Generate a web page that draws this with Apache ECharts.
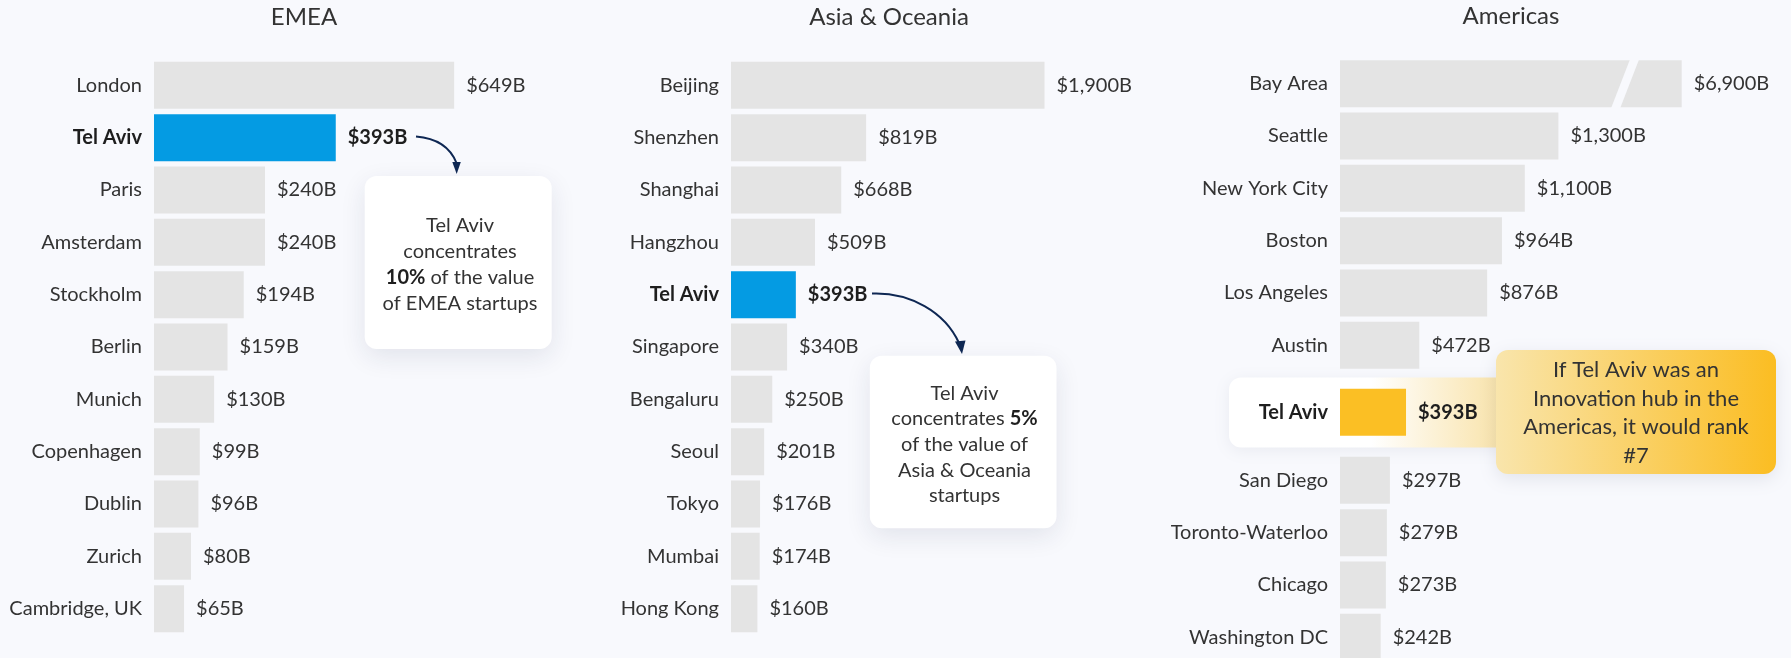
<!DOCTYPE html>
<html lang="en">
  <head>
    <meta charset="utf-8" />
    <title>Tel Aviv startup value by region</title>
    <style>
      * {
        margin: 0;
        padding: 0;
      }

      #chart-container {
        width: 1791px;
        height: 658px;
        overflow: hidden;
      }
    </style>
  </head>

  <body>
    <div id="chart-container"></div>
    <script src="https://cdn.jsdelivr.net/npm/echarts@6.0.0/dist/echarts.min.js"></script>
    <script>
      // startup ecosystem value, $B
      var emeaCities = ["London", "Tel Aviv", "Paris", "Amsterdam", "Stockholm", "Berlin", "Munich", "Copenhagen", "Dublin", "Zurich", "Cambridge, UK"];
      var emeaValues = [649, 393, 240, 240, 194, 159, 130, 99, 96, 80, 65];

      var asiaCities = ["Beijing", "Shenzhen", "Shanghai", "Hangzhou", "Tel Aviv", "Singapore", "Bengaluru", "Seoul", "Tokyo", "Mumbai", "Hong Kong"];
      var asiaValues = [1900, 819, 668, 509, 393, 340, 250, 201, 176, 174, 160];

      var americasCities = ["Bay Area", "Seattle", "New York City", "Boston", "Los Angeles", "Austin", "Tel Aviv", "San Diego", "Toronto-Waterloo", "Chicago", "Washington DC"];
      var americasValues = [6900, 1300, 1100, 964, 876, 472, 393, 297, 279, 273, 242];

      var regionTitles = ["EMEA", "Asia & Oceania", "Americas"];

      // Bay Area is far off the scale, so the Americas axis is cut
      var bayBreak = { start: 1670, end: 6590, gap: 54 };

      var FONT = "Lato";
      var BG = "#f8f9fd";
      var GREY = "#e4e4e4";
      var BLUE = "#049be3";
      var GOLD = "#fbbf24";
      var INK = "#333";
      var NAVY = "#0e2753";

      function money(v) {
        return "$" + v.toLocaleString("en-US") + "B";
      }

      function catAxis(i, names) {
        return {
          type: "category",
          gridIndex: i,
          data: names,
          inverse: true,
          z: 10,
          axisLine: { show: false },
          axisTick: { show: false },
          axisLabel: {
            margin: 12,
            color: INK,
            fontSize: 20,
            fontFamily: FONT,
            formatter: function (v) {
              return v === "Tel Aviv" ? "{b|" + v + "}" : v;
            },
            rich: {
              b: { fontSize: 20, fontFamily: FONT, fontWeight: "bold", color: "#1e1e1e" },
            },
          },
        };
      }

      function valAxis(i, max, extra) {
        var ax = {
          type: "value",
          gridIndex: i,
          min: 0,
          max: max,
          axisLine: { show: false },
          axisTick: { show: false },
          axisLabel: { show: false },
          splitLine: { show: false },
        };
        return Object.assign(ax, extra || {});
      }

      function bars(i, names, values, hl) {
        return {
          type: "bar",
          xAxisIndex: i,
          yAxisIndex: i,
          barWidth: 47,
          silent: true,
          data: values,
          itemStyle: {
            color: function (p) {
              return names[p.dataIndex] === "Tel Aviv" ? hl : GREY;
            },
          },
          label: {
            show: true,
            position: "right",
            distance: 12,
            color: INK,
            fontSize: 20,
            fontFamily: FONT,
            formatter: function (p) {
              var t = money(p.value);
              return names[p.dataIndex] === "Tel Aviv" ? "{b|" + t + "}" : t;
            },
            rich: {
              b: { fontSize: 20, fontFamily: FONT, fontWeight: "bold", color: "#1e1e1e" },
            },
          },
        };
      }

      // Americas is split so the Tel Aviv row can sit in its own highlighted band
      var amTop = americasCities.slice(0, 6);
      var amMid = americasCities.slice(6, 7);
      var amBot = americasCities.slice(7);

      var dom = document.getElementById("chart-container");
      var myChart = echarts.init(dom, null, { renderer: "canvas" });

      var titleStyle = { fontSize: 24, fontFamily: FONT, fill: INK, align: "center", verticalAlign: "middle" };

      function callout(x, y, w, h) {
        return {
          type: "rect",
          z: 50,
          shape: { x: x, y: y, width: w, height: h, r: 12 },
          style: { fill: "#fff", shadowBlur: 26, shadowOffsetY: 8, shadowColor: "rgba(30,40,80,0.10)" },
        };
      }

      function noteText(x, y, text, size, lh) {
        return {
          type: "text",
          z: 51,
          x: x,
          y: y,
          style: {
            text: text,
            fontSize: size,
            fontFamily: FONT,
            lineHeight: lh,
            fill: INK,
            align: "center",
            verticalAlign: "middle",
            rich: {
              b: { fontSize: size, fontFamily: FONT, fontWeight: "bold", lineHeight: lh, fill: "#1e1e1e" },
            },
          },
        };
      }

      var option = {
        backgroundColor: BG,
        animation: false,
        grid: [
          { left: 154, top: 59.2, width: 370, height: 575.6, outerBoundsMode: "none" },
          { left: 731, top: 59.2, width: 330, height: 575.6, outerBoundsMode: "none" },
          { left: 1340, top: 57.5, width: 358.5, height: 314, outerBoundsMode: "none" },
          { left: 1340, top: 386.2, width: 336, height: 52.33, outerBoundsMode: "none" },
          { left: 1340, top: 454.2, width: 336, height: 209.3, outerBoundsMode: "none" },
        ],
        yAxis: [
          catAxis(0, emeaCities),
          catAxis(1, asiaCities),
          catAxis(2, amTop),
          catAxis(3, amMid),
          catAxis(4, amBot),
        ],
        xAxis: [
          valAxis(0, 800),
          valAxis(1, 2000),
          valAxis(2, 7000, {
            breaks: [bayBreak],
            breakArea: { show: false },
          }),
          valAxis(3, 2000),
          valAxis(4, 2000),
        ],
        series: [
          bars(0, emeaCities, emeaValues, BLUE),
          bars(1, asiaCities, asiaValues, BLUE),
          bars(2, amTop, americasValues.slice(0, 6), GOLD),
          bars(3, amMid, americasValues.slice(6, 7), GOLD),
          bars(4, amBot, americasValues.slice(7), GOLD),
        ],
        graphic: [
          { type: "text", x: 304, y: 17, style: Object.assign({ text: regionTitles[0] }, titleStyle) },
          { type: "text", x: 889, y: 17, style: Object.assign({ text: regionTitles[1] }, titleStyle) },
          { type: "text", x: 1511, y: 16, style: Object.assign({ text: regionTitles[2] }, titleStyle) },

          // highlighted Tel Aviv band in the Americas panel
          {
            type: "rect",
            z: 1,
            shape: { x: 1229, y: 377.5, width: 285, height: 70, r: 12 },
            style: {
              fill: {
                type: "linear", x: 0, y: 0, x2: 1, y2: 0,
                colorStops: [
                  { offset: 0, color: "#ffffff" },
                  { offset: 0.5, color: "#ffffff" },
                  { offset: 0.94, color: "#f9e4ad" },
                  { offset: 1, color: "#f9e4ad" },
                ],
              },
              shadowBlur: 16,
              shadowOffsetY: 3,
              shadowColor: "rgba(30,40,80,0.07)",
            },
          },
          {
            type: "rect",
            z: 50,
            shape: { x: 1496, y: 350, width: 280, height: 124, r: 12 },
            style: {
              fill: {
                type: "linear", x: 0, y: 0, x2: 1, y2: 0,
                colorStops: [
                  { offset: 0, color: "#f9e5ac" },
                  { offset: 1, color: "#fbbd22" },
                ],
              },
              shadowBlur: 18,
              shadowOffsetY: 5,
              shadowColor: "rgba(30,40,80,0.10)",
            },
          },
          noteText(1636, 413, "If Tel Aviv was an\nInnovation hub in the\nAmericas, it would rank\n#7", 22, 28.7),

          // EMEA note
          callout(364.7, 176, 187, 173),
          noteText(460, 264.7, "Tel Aviv\nconcentrates\n{b|10%} of the value\nof EMEA startups", 20, 25.8),
          {
            type: "bezierCurve",
            z: 52,
            shape: { x1: 416, y1: 136.5, cpx1: 447, cpy1: 139, x2: 456.5, y2: 163 },
            style: { stroke: NAVY, lineWidth: 2, fill: "none" },
          },
          {
            type: "polygon",
            z: 52,
            shape: { points: [[452.3, 162], [460.8, 162], [456.7, 174]] },
            style: { fill: NAVY },
          },

          // Asia note
          callout(869.8, 355.7, 186.7, 172.6),
          noteText(964.5, 444.5, "Tel Aviv\nconcentrates {b|5%}\nof the value of\nAsia & Oceania\nstartups", 20, 25.6),
          {
            type: "bezierCurve",
            z: 52,
            shape: { x1: 872, y1: 293.5, cpx1: 910, cpy1: 292, cpx2: 945, cpy2: 312, x2: 959, y2: 343 },
            style: { stroke: NAVY, lineWidth: 2, fill: "none" },
          },
          {
            type: "polygon",
            z: 52,
            shape: { points: [[955, 341.5], [965.5, 340.5], [962, 354]] },
            style: { fill: NAVY },
          },
        ],
      };

      if (option && typeof option === "object") {
        myChart.setOption(option);
      }

      // slanted cut through the Bay Area bar, placed where the axis break falls
      var cutA = myChart.convertToPixel({ xAxisIndex: 2, yAxisIndex: 2 }, [bayBreak.start, americasCities[0]]);
      var cutB = myChart.convertToPixel({ xAxisIndex: 2, yAxisIndex: 2 }, [bayBreak.end, americasCities[0]]);
      if (cutA && cutB) {
        var h = 24.5;
        var s = 9.5;
        myChart.setOption({
          graphic: [
            {
              id: "bay-cut",
              type: "polygon",
              z: 20,
              shape: {
                points: [
                  [cutA[0] + s, cutA[1] - h],
                  [cutB[0] + s, cutB[1] - h],
                  [cutB[0] - s, cutB[1] + h],
                  [cutA[0] - s, cutA[1] + h],
                ],
              },
              style: { fill: BG },
            },
          ],
        });
      }

      window.addEventListener("resize", myChart.resize);
    </script>
  </body>
</html>
